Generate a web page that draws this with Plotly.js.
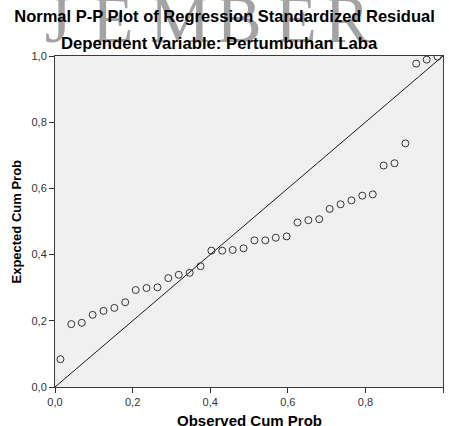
<!DOCTYPE html>
<html>
<head>
<meta charset="utf-8">
<script src="https://cdn.plot.ly/plotly-3.0.1.min.js"></script>
<style>
  html, body { margin: 0; padding: 0; background: #ffffff; }
  #chart { width: 449px; height: 426px; }
</style>
</head>
<body>
<div id="chart"></div>
<script>
// Observed cumulative probability (x) and expected cumulative probability (y)
var observedCumProb = [0.014, 0.042, 0.069, 0.097, 0.125, 0.153, 0.181, 0.208, 0.236, 0.264,
                       0.292, 0.319, 0.347, 0.375, 0.403, 0.431, 0.458, 0.486, 0.514, 0.542,
                       0.569, 0.597, 0.625, 0.653, 0.681, 0.708, 0.736, 0.764, 0.792, 0.819,
                       0.847, 0.875, 0.903, 0.931, 0.958, 0.986];
var expectedCumProb = [0.084, 0.190, 0.194, 0.218, 0.230, 0.239, 0.256, 0.293, 0.299, 0.301,
                       0.329, 0.339, 0.345, 0.365, 0.412, 0.412, 0.414, 0.419, 0.443, 0.443,
                       0.451, 0.455, 0.497, 0.504, 0.507, 0.538, 0.552, 0.564, 0.578, 0.582,
                       0.669, 0.676, 0.736, 0.977, 0.989, 0.998];
var refLineX = [0, 1];
var refLineY = [0, 1];
var tickValues = [0, 0.2, 0.4, 0.6, 0.8, 1.0];
var tickLabels = ["0,0", "0,2", "0,4", "0,6", "0,8", "1,0"];
var titleText = "Normal P-P Plot of Regression Standardized Residual";
var subtitleText = "Dependent Variable: Pertumbuhan Laba";
var xTitleText = "Observed Cum Prob";
var yTitleText = "Expected Cum Prob";
var watermarkLetters = ["J", "E", "M", "B", "E", "R"];

// layout-only: horizontal centres (paper fraction) of the background watermark letters
var watermarkCentres = [0.008, 0.149, 0.322, 0.474, 0.621, 0.753];

var sans = "Liberation Sans, Arial, sans-serif";

var traces = [
  {
    x: refLineX, y: refLineY, type: "scatter", mode: "lines",
    line: { color: "#1a1a1a", width: 1 },
    hoverinfo: "skip", showlegend: false
  },
  {
    x: observedCumProb, y: expectedCumProb, type: "scatter", mode: "markers",
    marker: { symbol: "circle-open", size: 7, color: "#363636", line: { width: 1, color: "#363636" } },
    showlegend: false
  }
];

var axisCommon = {
  range: [0, 1],
  tickvals: tickValues,
  ticktext: tickLabels,
  ticks: "outside",
  ticklen: 5,
  tickwidth: 1,
  tickcolor: "#333333",
  showgrid: false,
  zeroline: false,
  showline: true,
  mirror: true,
  linecolor: "#3c3c3c",
  linewidth: 1,
  tickfont: { family: sans, size: 11, color: "#333333" },
  fixedrange: true
};

var watermarkShapes = watermarkLetters.map(function (letter, i) {
  var c = watermarkCentres[i];
  return {
    type: "rect", xref: "paper", yref: "paper",
    x0: c - 0.08, x1: c + 0.08, y0: 1.06, y1: 1.206,
    line: { width: 0 }, fillcolor: "rgba(0,0,0,0)", layer: "below",
    label: {
      text: letter,
      textposition: "middle center",
      font: { family: "Liberation Serif, DejaVu Serif, serif", size: 68, color: "#a3a3a3" }
    }
  };
});

var layout = {
  width: 449,
  height: 426,
  margin: { l: 55, r: 6, t: 56, b: 39, pad: 0 },
  paper_bgcolor: "#ffffff",
  plot_bgcolor: "#f0f0f0",
  showlegend: false,
  title: {
    text: "<b>" + titleText + "</b>",
    font: { family: sans, size: 16.5, color: "#000000" },
    x: 0.5, xref: "container", xanchor: "center",
    y: 0.962, yref: "container", yanchor: "middle"
  },
  xaxis: Object.assign({}, axisCommon),
  yaxis: Object.assign({}, axisCommon),
  shapes: watermarkShapes,
  annotations: [
    {
      text: "<b>" + subtitleText + "</b>",
      xref: "paper", yref: "paper", x: 0.425, y: 1.0, xanchor: "center", yanchor: "middle",
      yshift: 13, showarrow: false,
      font: { family: sans, size: 16.7, color: "#000000" }
    },
    {
      text: "<b>" + xTitleText + "</b>",
      xref: "paper", yref: "paper", x: 0.5, y: -0.1027, xanchor: "center", yanchor: "middle",
      showarrow: false,
      font: { family: sans, size: 15, color: "#000000" }
    },
    {
      text: "<b>" + yTitleText + "</b>",
      xref: "paper", yref: "paper", x: -0.1005, y: 0.5, xanchor: "center", yanchor: "middle",
      textangle: -90, showarrow: false,
      font: { family: sans, size: 13, color: "#000000" }
    }
  ]
};

Plotly.newPlot("chart", traces, layout, { displayModeBar: false, staticPlot: true });
</script>
</body>
</html>
